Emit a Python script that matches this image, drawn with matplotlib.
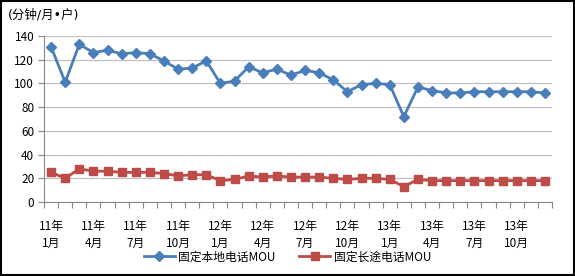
import matplotlib
matplotlib.use("Agg")
import matplotlib.pyplot as plt
import numpy as np
from matplotlib.patches import Rectangle

plt.rcParams['font.family'] = ['Noto Sans CJK SC', 'DejaVu Sans']

months = [f"{y}年\n{m}月" for y in (11, 12, 13) for m in range(1, 13)]
local_mou = [131, 101, 133, 126, 128, 125, 126, 125, 119, 112, 113, 119,
             100, 102, 114, 109, 112, 107, 111, 109, 103, 93, 99, 100,
             99, 72, 97, 94, 92, 92, 93, 93, 93, 93, 93, 92]
long_mou = [25, 20, 28, 26, 26, 25, 25, 25, 24, 22, 23, 23,
            18, 19, 22, 21, 22, 21, 21, 21, 20, 19, 20, 20,
            19, 13, 19, 18, 18, 18, 18, 18, 18, 18, 18, 18]
series_names = ["固定本地电话MOU", "固定长途电话MOU"]
y_ticks = [0, 20, 40, 60, 80, 100, 120, 140]
unit_label = "(分钟/月•户)"

fig = plt.figure(figsize=(5.75, 2.76), dpi=100)
ax = fig.add_axes([44/575, 1-202/276, (552-44)/575, (202-36)/276])

x = np.arange(len(months))
ax.plot(x, local_mou, color='#4A7EBB', lw=2.0, marker='D', ms=5.5,
        label=series_names[0], zorder=3)
ax.plot(x, long_mou, color='#BE4B48', lw=2.0, marker='s', ms=6,
        label=series_names[1], zorder=3)

ax.set_xlim(-0.5, len(months) - 0.5)
ax.set_ylim(0, 140)
ax.set_yticks(y_ticks)
ax.yaxis.grid(True, color='#C0C0C0', lw=0.9)
ax.set_axisbelow(True)
for s in ['top', 'right']:
    ax.spines[s].set_visible(False)
ax.spines['left'].set_color('#888888')
ax.spines['bottom'].set_color('#888888')
ax.tick_params(axis='y', length=4, color='#888888', labelsize=8.5, pad=3)

ax.set_xticks(np.arange(-0.5, len(months), 1))
ax.set_xticklabels([])
ax.tick_params(axis='x', which='major', length=4, color='#888888')
ax.set_xticks(x[::3], minor=True)
labels = ax.set_xticklabels(months[::3], minor=True, fontsize=8.5, linespacing=1.35)
for t in labels:
    t.set_multialignment('center')
ax.tick_params(axis='x', which='minor', length=0, pad=13)

fig.text(8/575, 1-15/276, unit_label, fontsize=9, va='center', ha='left',
         family=['DejaVu Sans', 'Noto Sans CJK SC'])

fig.legend(loc='center', bbox_to_anchor=(0.5, 1-257/276), ncol=2,
           frameon=False, fontsize=8.5, handlelength=2.6, columnspacing=2.0,
           handletextpad=0.3)

fig.patches.append(Rectangle((0.001, 0.002), 0.997, 0.995, transform=fig.transFigure,
                             fill=False, edgecolor='black', lw=1.5))

fig.savefig('out.png', dpi=100)
